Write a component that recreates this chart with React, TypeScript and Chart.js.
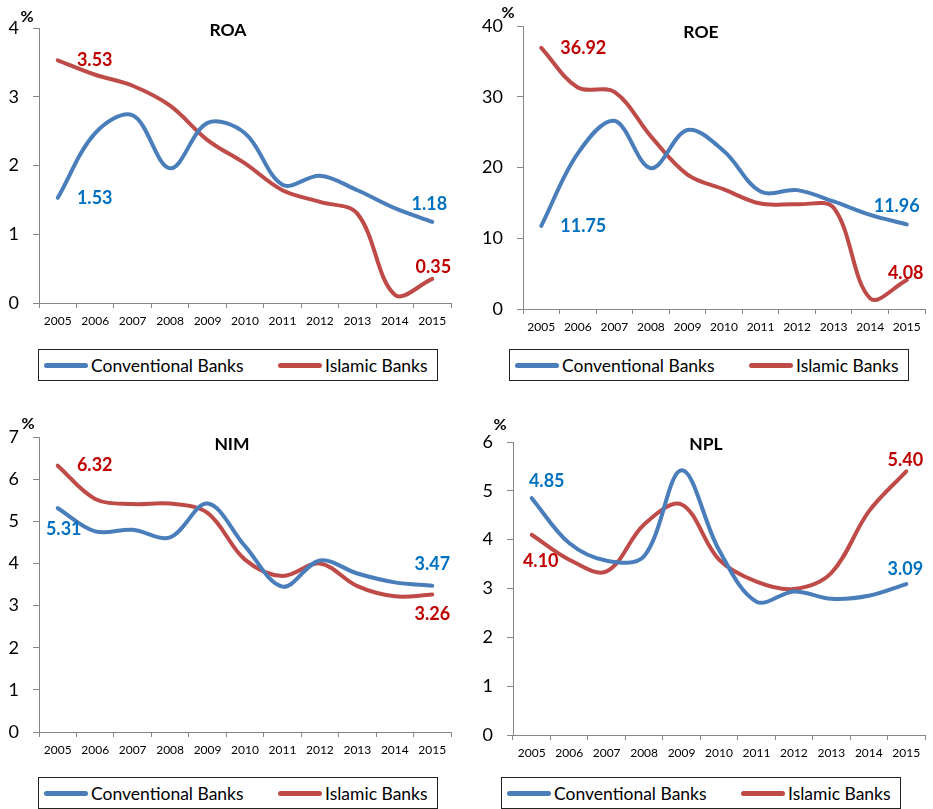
import React, { useEffect, useRef } from "react";
import { Chart, registerables } from "chart.js";

Chart.register(...registerables);

// ---------------- data ----------------
const years = ["2005", "2006", "2007", "2008", "2009", "2010", "2011", "2012", "2013", "2014", "2015"];

const roaConventional = [1.53, 2.47, 2.73, 1.96, 2.62, 2.47, 1.72, 1.85, 1.64, 1.38, 1.18];
const roaIslamic = [3.53, 3.32, 3.16, 2.87, 2.37, 2.03, 1.64, 1.47, 1.3, 0.12, 0.35];

const roeConventional = [11.75, 22.0, 26.6, 19.9, 25.3, 22.3, 16.6, 16.8, 15.2, 13.3, 11.96];
const roeIslamic = [36.92, 31.3, 30.7, 24.4, 19.0, 16.9, 14.9, 14.8, 14.3, 1.5, 4.08];

const nimConventional = [5.31, 4.76, 4.8, 4.62, 5.42, 4.41, 3.45, 4.07, 3.76, 3.55, 3.47];
const nimIslamic = [6.32, 5.53, 5.41, 5.42, 5.2, 4.09, 3.7, 4.0, 3.46, 3.22, 3.26];

const nplConventional = [4.85, 3.93, 3.57, 3.66, 5.42, 3.79, 2.73, 2.94, 2.79, 2.85, 3.09];
const nplIslamic = [4.1, 3.59, 3.35, 4.31, 4.72, 3.59, 3.14, 2.99, 3.32, 4.58, 5.4];

const seriesNames = ["Conventional Banks", "Islamic Banks"];
const panelTitles = ["ROA", "ROE", "NIM", "NPL"];
const unitLabel = "%";

// ---------------- styles ----------------
const FONT = "Lato, 'Liberation Sans', Arial, sans-serif";
const LINE_COLORS = ["#4A7EBB", "#BE4B48"];
const LABEL_COLORS = ["#0070C0", "#C00000"];
const AXIS_COLOR = "#868686";

type LabelSpec = { ds: number; idx: number; dx: number; dy: number };
type Box = { left: number; top: number; width: number; height: number };

type PanelSpec = {
  title: string;
  conv: number[];
  isl: number[];
  yMax: number;
  yStep: number;
  canvas: Box;
  area: { l: number; t: number; r: number; b: number };
  titlePos: { x: number; y: number };
  pctPos: { x: number; y: number };
  legend: Box;
  labels: LabelSpec[];
};

const panels: PanelSpec[] = [
  {
    title: panelTitles[0],
    conv: roaConventional,
    isl: roaIslamic,
    yMax: 4,
    yStep: 1,
    canvas: { left: 0, top: 0, width: 466, height: 345 },
    area: { l: 39, t: 28, r: 451, b: 303 },
    titlePos: { x: 228, y: 30 },
    pctPos: { x: 27, y: 16 },
    legend: { left: 38, top: 349, width: 400, height: 32 },
    labels: [
      { ds: 1, idx: 0, dx: 37, dy: 0 },
      { ds: 0, idx: 0, dx: 37, dy: 0 },
      { ds: 0, idx: 10, dx: -3, dy: -18 },
      { ds: 1, idx: 10, dx: 1, dy: -12 },
    ],
  },
  {
    title: panelTitles[1],
    conv: roeConventional,
    isl: roeIslamic,
    yMax: 40,
    yStep: 10,
    canvas: { left: 466, top: 0, width: 467, height: 345 },
    area: { l: 523, t: 26, r: 925, b: 309 },
    titlePos: { x: 701, y: 32 },
    pctPos: { x: 508, y: 12 },
    legend: { left: 509, top: 349, width: 400, height: 32 },
    labels: [
      { ds: 1, idx: 0, dx: 42, dy: 0 },
      { ds: 0, idx: 0, dx: 42, dy: 0 },
      { ds: 0, idx: 10, dx: -10, dy: -18 },
      { ds: 1, idx: 10, dx: -1, dy: -7 },
    ],
  },
  {
    title: panelTitles[2],
    conv: nimConventional,
    isl: nimIslamic,
    yMax: 7,
    yStep: 1,
    canvas: { left: 0, top: 390, width: 466, height: 380 },
    area: { l: 39, t: 437, r: 451, b: 732 },
    titlePos: { x: 232, y: 444 },
    pctPos: { x: 28, y: 423 },
    legend: { left: 38, top: 777, width: 400, height: 32 },
    labels: [
      { ds: 1, idx: 0, dx: 37, dy: 0 },
      { ds: 0, idx: 0, dx: 6, dy: 21 },
      { ds: 0, idx: 10, dx: 0, dy: -22 },
      { ds: 1, idx: 10, dx: 0, dy: 20 },
    ],
  },
  {
    title: panelTitles[3],
    conv: nplConventional,
    isl: nplIslamic,
    yMax: 6,
    yStep: 1,
    canvas: { left: 466, top: 390, width: 467, height: 380 },
    area: { l: 513, t: 442, r: 925, b: 735 },
    titlePos: { x: 706, y: 444 },
    pctPos: { x: 500, y: 424 },
    legend: { left: 501, top: 777, width: 400, height: 32 },
    labels: [
      { ds: 0, idx: 0, dx: 15, dy: -17 },
      { ds: 1, idx: 0, dx: 9, dy: 26 },
      { ds: 1, idx: 10, dx: -1, dy: -11 },
      { ds: 0, idx: 10, dx: -1, dy: -15 },
    ],
  },
];

const valueLabelPlugin = {
  id: "valueLabels",
  afterDatasetsDraw(chart: any, _args: any, opts: any) {
    const ctx = chart.ctx;
    const items: LabelSpec[] = (opts && opts.items) || [];
    items.forEach((it) => {
      const meta = chart.getDatasetMeta(it.ds);
      const pt = meta.data[it.idx];
      const v = chart.data.datasets[it.ds].data[it.idx] as number;
      if (!pt) return;
      ctx.save();
      ctx.font = `bold 18px ${FONT}`;
      ctx.fillStyle = LABEL_COLORS[it.ds];
      ctx.textAlign = "center";
      ctx.textBaseline = "middle";
      ctx.fillText(v.toFixed(2), pt.x + it.dx, pt.y + it.dy);
      ctx.restore();
    });
  },
};

function Panel({ spec }: { spec: PanelSpec }) {
  const ref = useRef<HTMLCanvasElement>(null);

  useEffect(() => {
    if (!ref.current) return;
    const { canvas, area } = spec;
    const yWidth = area.l - canvas.left;
    const xHeight = canvas.top + canvas.height - area.b;
    const chart = new Chart(ref.current, {
      type: "line",
      data: {
        labels: years,
        datasets: [
          {
            label: seriesNames[0],
            data: spec.conv,
            borderColor: LINE_COLORS[0],
            backgroundColor: LINE_COLORS[0],
            borderWidth: 4,
            pointRadius: 0,
            tension: 0.35,
            borderCapStyle: "round",
            borderJoinStyle: "round",
          },
          {
            label: seriesNames[1],
            data: spec.isl,
            borderColor: LINE_COLORS[1],
            backgroundColor: LINE_COLORS[1],
            borderWidth: 4,
            pointRadius: 0,
            tension: 0.35,
            borderCapStyle: "round",
            borderJoinStyle: "round",
          },
        ],
      },
      options: {
        animation: false,
        responsive: false,
        maintainAspectRatio: false,
        events: [],
        layout: {
          padding: {
            left: 0,
            top: area.t - canvas.top,
            right: canvas.left + canvas.width - area.r,
            bottom: 0,
          },
        },
        plugins: {
          legend: { display: false },
          title: { display: false },
          tooltip: { enabled: false },
          // @ts-ignore
          valueLabels: { items: spec.labels },
        },
        scales: {
          x: {
            type: "category",
            offset: true,
            grid: {
              display: true,
              offset: true,
              drawOnChartArea: false,
              drawTicks: true,
              tickLength: 5,
              color: AXIS_COLOR,
            },
            border: { display: true, color: AXIS_COLOR, width: 1 },
            ticks: {
              color: "#000",
              font: { family: FONT, size: 12 },
              padding: 6,
              maxRotation: 0,
              autoSkip: false,
            },
            afterFit: (scale: any) => {
              scale.height = xHeight;
            },
          },
          y: {
            min: 0,
            max: spec.yMax,
            grid: {
              display: true,
              drawOnChartArea: false,
              drawTicks: true,
              tickLength: 6,
              color: AXIS_COLOR,
            },
            border: { display: true, color: AXIS_COLOR, width: 1 },
            ticks: {
              stepSize: spec.yStep,
              color: "#000",
              font: { family: FONT, size: 18 },
              padding: 14,
            },
            afterFit: (scale: any) => {
              scale.width = yWidth;
            },
          },
        },
      },
      plugins: [valueLabelPlugin],
    } as any);
    return () => chart.destroy();
  }, [spec]);

  const { canvas, legend } = spec;
  return (
    <>
      <canvas
        ref={ref}
        width={canvas.width}
        height={canvas.height}
        style={{
          position: "absolute",
          left: canvas.left,
          top: canvas.top,
          width: canvas.width,
          height: canvas.height,
          display: "block",
        }}
      />
      <div
        style={{
          position: "absolute",
          left: spec.titlePos.x,
          top: spec.titlePos.y,
          transform: "translate(-50%, -50%)",
          font: `bold 17.5px ${FONT}`,
          lineHeight: "20px",
          color: "#000",
          whiteSpace: "nowrap",
        }}
      >
        {spec.title}
      </div>
      <div
        style={{
          position: "absolute",
          left: spec.pctPos.x,
          top: spec.pctPos.y,
          transform: "translate(-50%, -50%)",
          font: `bold 16px ${FONT}`,
          lineHeight: "16px",
          color: "#000",
        }}
      >
        {unitLabel}
      </div>
      <div
        style={{
          position: "absolute",
          left: legend.left,
          top: legend.top,
          width: legend.width,
          height: legend.height,
          boxSizing: "border-box",
          border: "1px solid #222",
          background: "#fff",
        }}
      >
        {seriesNames.map((name, i) => (
          <div
            key={name}
            style={{
              position: "absolute",
              left: i === 0 ? 5 : 239,
              top: 0,
              height: legend.height - 2,
              display: "flex",
              alignItems: "center",
              whiteSpace: "nowrap",
            }}
          >
            <div
              style={{
                width: 44,
                height: 5,
                borderRadius: 3,
                background: LINE_COLORS[i],
                marginRight: 3,
              }}
            />
            <span style={{ font: `17.5px ${FONT}`, color: "#000" }}>{name}</span>
          </div>
        ))}
      </div>
    </>
  );
}

export default function App() {
  return (
    <div
      style={{
        position: "absolute",
        left: 0,
        top: 0,
        width: 933,
        height: 809,
        background: "#fff",
        overflow: "hidden",
      }}
    >
      {panels.map((p) => (
        <Panel key={p.title} spec={p} />
      ))}
    </div>
  );
}
